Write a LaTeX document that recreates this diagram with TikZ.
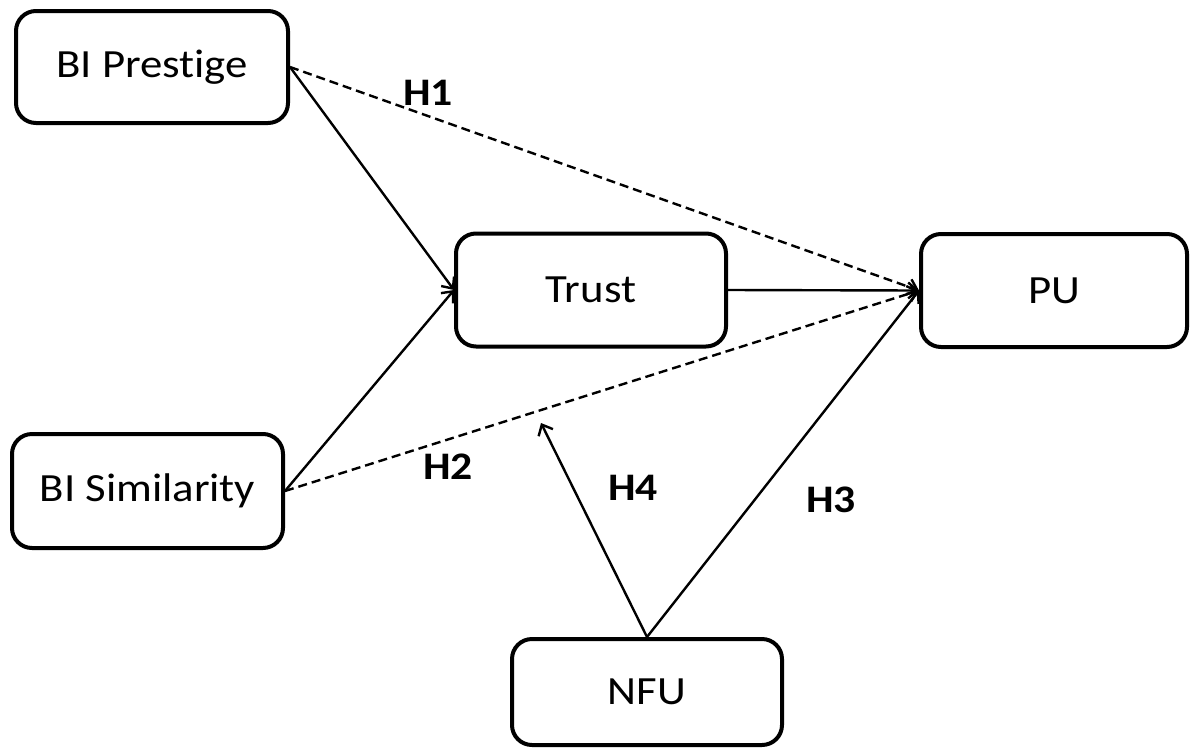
\documentclass[tikz,border=0pt]{standalone}
\usepackage{fontspec}
\setmainfont[Ligatures={NoCommon}]{Carlito}
\usetikzlibrary{arrows.meta}
\tikzset{
  box/.style={draw, line width=4pt, rounded corners=20pt, inner sep=0pt,
    font=\fontsize{40}{44}\selectfont},
  link/.style={line width=2.4pt, -{Straight Barb[length=9pt,width=16pt,line width=2.4pt]}},
  dlink/.style={link, dash pattern=on 9pt off 5pt},
  hlabel/.style={font=\fontsize{39}{44}\selectfont\bfseries, inner sep=0pt}
}
\newcommand{\wide}[1]{\scalebox{1.12}[1]{#1}}
\begin{document}
\begin{tikzpicture}[x=1pt,y=-1pt]
\useasboundingbox (0,0) rectangle (1190,747);
\node[box, minimum width=272pt, minimum height=112pt] (prestige) at (152,67) {\wide{BI Prestige}};
\node[box, minimum width=270pt, minimum height=113pt] (trust) at (591,290) {\wide{Trust}};
\node[box, minimum width=266pt, minimum height=113pt] (pu) at (1054,290.5) {\wide{PU}};
\node[box, minimum width=271pt, minimum height=114pt] (similarity) at (147.5,491) {\wide{BI Similarity}};
\node[box, minimum width=270pt, minimum height=106pt] (nfu) at (647,692) {\wide{NFU}};
\coordinate (h4tip) at (541,423);

\draw[link] (prestige.east) -- (trust.west);
\draw[link] (similarity.east) -- (trust.west);
\draw[dlink] (prestige.east) -- (pu.west);
\draw[dlink] (similarity.east) -- (pu.west);
\draw[link] (trust.east) -- (pu.west);
\draw[link] (nfu.north) -- (pu.west);
\draw[link] (nfu.north) -- (h4tip);

\node[hlabel] (h1) at (428,93) {\wide{H1}};
\node[hlabel] (h2) at (448,467) {\wide{H2}};
\node[hlabel] (h4) at (633,488) {\wide{H4}};
\node[hlabel] (h3) at (831,500) {\wide{H3}};
\end{tikzpicture}
\end{document}
